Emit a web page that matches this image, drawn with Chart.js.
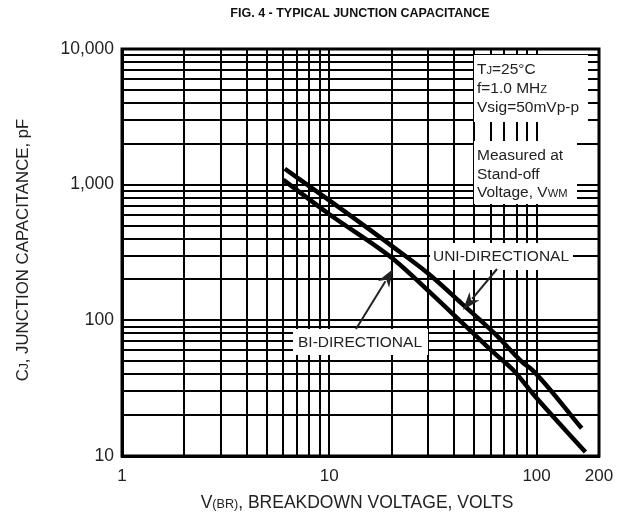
<!DOCTYPE html>
<html>
<head>
<meta charset="utf-8">
<script src="https://cdn.jsdelivr.net/npm/chart.js@4.4.1/dist/chart.umd.min.js"></script>
<style>
  html, body { margin: 0; padding: 0; background: #fff; }
</style>
</head>
<body>
<canvas id="myChart" width="625" height="518"></canvas>
<script>
const ctx = document.getElementById("myChart");
const FONT = '"Liberation Sans", Arial, Helvetica, sans-serif';

// curves (volts, pF)
const uniVolts = [6.1, 10, 20.6, 29.8, 43.3, 62.7, 85.5, 95.5, 165];
const uniCap = [1310, 765, 342, 223, 134, 80, 49, 43, 16];
const biVolts = [6, 10, 20.6, 29.8, 43.3, 62.7, 78.3, 95.5, 172];
const biCap = [1085, 605, 279, 167, 97.5, 57, 42, 29, 10.7];

// axis ticks
const xTickValues = [1, 10, 100, 200];
const xTickLabels = ["1", "10", "100", "200"];
const yTickValues = [10, 100, 1000, 10000];
const yTickLabels = ["10", "100", "1,000", "10,000"];

// grid lines: 1..9 in each decade
const xGrid = [];
[1, 10].forEach((d) => { for (let k = 1; k < 10; k++) xGrid.push(k * d); });
xGrid.push(100, 200);
const yGrid = [];
[10, 100, 1000].forEach((d) => { for (let k = 1; k < 10; k++) yGrid.push(k * d); });
yGrid.push(10000);

function toPoints(xs, ys) {
  return xs.map((x, i) => ({ x: x, y: ys[i] }));
}

// text with smaller "subscript" parts sitting on the baseline
function richText(c, parts, x, y, size, align) {
  let total = 0;
  parts.forEach((p) => {
    c.font = (p[1] ? size * 0.72 : size) + "px " + FONT;
    total += c.measureText(p[0]).width;
  });
  let cx = align === "center" ? x - total / 2 : x;
  c.textAlign = "left";
  c.textBaseline = "alphabetic";
  parts.forEach((p) => {
    c.font = (p[1] ? size * 0.72 : size) + "px " + FONT;
    c.fillText(p[0], cx, y);
    cx += c.measureText(p[0]).width;
  });
}

function arrow(c, x1, y1, x2, y2) {
  const a = Math.atan2(y2 - y1, x2 - x1);
  const len = 18, w = 6.5;
  c.strokeStyle = "#222";
  c.lineWidth = 2;
  c.beginPath();
  c.moveTo(x1, y1);
  c.lineTo(x2 - Math.cos(a) * len * 0.8, y2 - Math.sin(a) * len * 0.8);
  c.stroke();
  c.fillStyle = "#222";
  c.beginPath();
  c.moveTo(x2, y2);
  c.lineTo(x2 - Math.cos(a) * len - Math.sin(a) * w, y2 - Math.sin(a) * len + Math.cos(a) * w);
  c.lineTo(x2 - Math.cos(a) * len * 0.7, y2 - Math.sin(a) * len * 0.7);
  c.lineTo(x2 - Math.cos(a) * len + Math.sin(a) * w, y2 - Math.sin(a) * len - Math.cos(a) * w);
  c.closePath();
  c.fill();
}

const notes = {
  id: "notes",
  beforeDatasetsDraw(chart) {
    const c = chart.ctx;
    const a = chart.chartArea;
    c.save();
    // white label boxes over the grid
    c.fillStyle = "#fff";
    c.fillRect(474, 55, 114, 67);
    c.fillRect(474, 141, 103, 63);
    c.fillRect(430, 243, 143, 27);
    c.fillRect(293, 329, 135, 26);
    // frame
    c.strokeStyle = "#000";
    c.lineWidth = 3;
    c.strokeRect(a.left, a.top, a.right - a.left, a.bottom - a.top);
    c.restore();
  },
  afterDatasetsDraw(chart) {
    const c = chart.ctx;
    c.save();
    c.fillStyle = "#222";
    const s = 15.5;
    richText(c, [["T"], ["J", 1], ["=25°C"]], 477, 74, s);
    richText(c, [["f=1.0 MH"], ["Z", 1]], 477, 93, s);
    richText(c, [["Vsig=50mVp-p"]], 477, 112, s);
    richText(c, [["Measured at"]], 477, 160, s);
    richText(c, [["Stand-off"]], 477, 179, s);
    richText(c, [["Voltage, V"], ["WM", 1]], 477, 197, s);
    richText(c, [["UNI-DIRECTIONAL"]], 501, 261, s, "center");
    richText(c, [["BI-DIRECTIONAL"]], 360, 347, s, "center");
    arrow(c, 356, 329, 393, 269);
    arrow(c, 497, 269, 463, 310);

    // title and axis titles
    c.fillStyle = "#111";
    c.font = "bold 12.5px " + FONT;
    c.textAlign = "center";
    c.textBaseline = "middle";
    c.fillText("FIG. 4 - TYPICAL JUNCTION CAPACITANCE", 360, 14);
    c.fillStyle = "#222";
    richText(c, [["V"], ["(BR)", 1], [", BREAKDOWN VOLTAGE, VOLTS"]], 357, 508, 17.5, "center");
    c.translate(28, 250);
    c.rotate(-Math.PI / 2);
    richText(c, [["C"], ["J", 1], [", JUNCTION CAPACITANCE, pF"]], 0, 0, 16.8, "center");
    c.restore();
  },
};

new Chart(ctx, {
  type: "line",
  data: {
    datasets: [
      {
        label: "UNI-DIRECTIONAL",
        data: toPoints(uniVolts, uniCap),
        borderColor: "#000",
        borderWidth: 4.5,
        pointRadius: 0,
        cubicInterpolationMode: "monotone",
        borderCapStyle: "butt",
      },
      {
        label: "BI-DIRECTIONAL",
        data: toPoints(biVolts, biCap),
        borderColor: "#000",
        borderWidth: 4.5,
        pointRadius: 0,
        cubicInterpolationMode: "monotone",
        borderCapStyle: "butt",
      },
    ],
  },
  options: {
    responsive: false,
    animation: false,
    layout: { padding: { top: 49, right: 26, left: 0, bottom: 0 } },
    scales: {
      x: {
        type: "logarithmic",
        min: 1,
        max: 200,
        afterBuildTicks: (scale) => {
          scale.ticks = xGrid.map((v) => ({ value: v }));
        },
        afterFit: (scale) => {
          scale.height = 62;
        },
        grid: { color: "#000", lineWidth: 2, drawTicks: false },
        border: { color: "#000", width: 3 },
        ticks: {
          autoSkip: false,
          maxRotation: 0,
          padding: 10,
          color: "#222",
          font: { family: FONT, size: 17 },
          callback: (v) => {
            const i = xTickValues.indexOf(v);
            return i >= 0 ? xTickLabels[i] : "";
          },
        },
      },
      y: {
        type: "logarithmic",
        min: 10,
        max: 10000,
        afterBuildTicks: (scale) => {
          scale.ticks = yGrid.map((v) => ({ value: v }));
        },
        afterFit: (scale) => {
          scale.width = 122;
        },
        grid: { color: "#000", lineWidth: 2, drawTicks: false },
        border: { color: "#000", width: 3 },
        ticks: {
          autoSkip: false,
          padding: 8,
          color: "#222",
          font: { family: FONT, size: 17.5 },
          callback: (v) => {
            const i = yTickValues.indexOf(v);
            return i >= 0 ? yTickLabels[i] : "";
          },
        },
      },
    },
    plugins: {
      legend: { display: false },
      tooltip: { enabled: false },
      title: { display: false },
    },
  },
  plugins: [notes],
});
</script>
</body>
</html>
